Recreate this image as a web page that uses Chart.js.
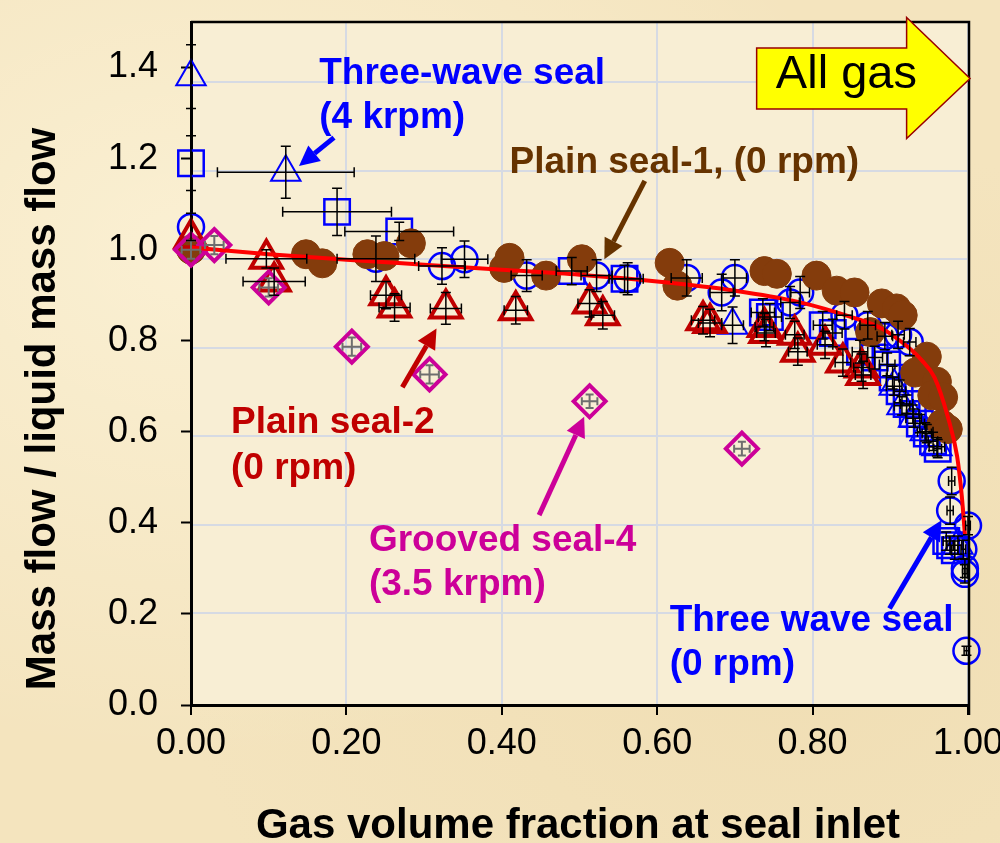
<!DOCTYPE html>
<html><head><meta charset="utf-8">
<script src="https://cdn.jsdelivr.net/npm/chart.js@4.4.0/dist/chart.umd.min.js"></script>
<style>
html,body{margin:0;padding:0;background:#F4E4BE;overflow:hidden;}
#wrap{width:1000px;height:843px;overflow:hidden;position:relative;
 background:radial-gradient(ellipse at 20% 30%, rgba(255,248,225,0.6), rgba(255,248,225,0) 60%),
            radial-gradient(ellipse at 80% 75%, rgba(236,216,170,0.5), rgba(236,216,170,0) 55%), #F4E4BE;}
canvas{display:block;}
</style></head><body>
<div id="wrap"><canvas id="c" width="1040" height="843"></canvas></div>
<script>
// ---- tick labels ----
const xTickValues = [0, 0.2, 0.4, 0.6, 0.8, 1.0];
const xTickLabels = ['0.00', '0.20', '0.40', '0.60', '0.80', '1.00'];
const yTickValues = [0, 0.2, 0.4, 0.6, 0.8, 1.0, 1.2, 1.4];
const yTickLabels = ['0.0', '0.2', '0.4', '0.6', '0.8', '1.0', '1.2', '1.4'];

// ---- Three-wave seal (4 krpm): blue open triangles ----
const tw4X    = [0, 0.122, 0.697, 0.905, 0.915, 0.930, 0.945, 0.960, 0.987];
const tw4Y    = [1.38, 1.17, 0.834, 0.700, 0.657, 0.630, 0.600, 0.567, 0.351];
const tw4XErr = [0, 0.088, 0.014, 0.01, 0.01, 0.01, 0.01, 0.01, 0.005];
const tw4YErr = [0.07, 0.057, 0.04, 0.02, 0.02, 0.02, 0.02, 0.02, 0.02];

// ---- Three-wave seal (other speed): blue open squares ----
const twSqX    = [0, 0.188, 0.268, 0.490, 0.558, 0.736, 0.745, 0.813, 0.826, 0.861, 0.880, 0.896, 0.903, 0.912, 0.921, 0.929, 0.938, 0.947, 0.955, 0.961, 0.972, 0.977, 0.983];
const twSqY    = [1.19, 1.083, 1.040, 0.953, 0.936, 0.862, 0.852, 0.834, 0.817, 0.776, 0.763, 0.748, 0.719, 0.689, 0.661, 0.639, 0.618, 0.596, 0.579, 0.563, 0.360, 0.351, 0.340];
const twSqXErr = [0, 0.07, 0.07, 0.02, 0.02, 0.015, 0.015, 0.012, 0.012, 0.01, 0.01, 0.01, 0.008, 0.008, 0.008, 0.008, 0.006, 0.006, 0.006, 0.005, 0.004, 0.004, 0.004];
const twSqYErr = [0.06, 0.052, 0.02, 0.03, 0.03, 0.03, 0.03, 0.03, 0.03, 0.025, 0.025, 0.025, 0.025, 0.025, 0.02, 0.02, 0.02, 0.02, 0.02, 0.02, 0.02, 0.02, 0.02];

// ---- Three wave seal (0 rpm): blue open circles ----
const tw0X    = [0, 0.238, 0.323, 0.352, 0.432, 0.522, 0.562, 0.638, 0.683, 0.700, 0.771, 0.784, 0.841, 0.871, 0.893, 0.910, 0.925, 0.979, 0.977, 1.000, 0.994, 0.996, 0.996, 0.998];
const tw0Y    = [1.05, 0.980, 0.964, 0.979, 0.943, 0.943, 0.936, 0.938, 0.906, 0.938, 0.884, 0.906, 0.856, 0.834, 0.810, 0.813, 0.797, 0.492, 0.427, 0.394, 0.342, 0.300, 0.288, 0.119];
const tw0XErr = [0, 0.05, 0.03, 0.03, 0.02, 0.02, 0.02, 0.02, 0.015, 0.015, 0.012, 0.012, 0.01, 0.01, 0.01, 0.008, 0.008, 0.004, 0.004, 0.003, 0.003, 0.003, 0.003, 0.003];
const tw0YErr = [0.03, 0.05, 0.04, 0.04, 0.035, 0.035, 0.035, 0.04, 0.04, 0.04, 0.035, 0.035, 0.03, 0.03, 0.03, 0.03, 0.03, 0.03, 0.03, 0.02, 0.02, 0.02, 0.02, 0.01];

// ---- Plain seal-1 (0 rpm): brown filled circles ----
const p1X = [0, 0.148, 0.169, 0.227, 0.249, 0.283, 0.403, 0.410, 0.457, 0.503, 0.616, 0.626, 0.738, 0.754, 0.805, 0.831, 0.854, 0.874, 0.889, 0.908, 0.916, 0.947, 0.932, 0.960, 0.954, 0.968, 0.966, 0.974];
const p1Y = [1.00, 0.990, 0.970, 0.990, 0.986, 1.014, 0.960, 0.982, 0.943, 0.979, 0.971, 0.921, 0.953, 0.947, 0.943, 0.910, 0.906, 0.819, 0.882, 0.871, 0.856, 0.765, 0.730, 0.710, 0.680, 0.676, 0.617, 0.606];

// ---- Plain seal-2 (0 rpm): dark red open triangles ----
const p2X    = [0, 0.097, 0.107, 0.251, 0.262, 0.328, 0.418, 0.513, 0.530, 0.659, 0.668, 0.738, 0.740, 0.777, 0.781, 0.816, 0.839, 0.863, 0.865];
const p2Y    = [1.025, 0.980, 0.930, 0.900, 0.873, 0.871, 0.867, 0.882, 0.856, 0.845, 0.839, 0.830, 0.817, 0.813, 0.776, 0.791, 0.752, 0.741, 0.725];
const p2XErr = [0, 0.052, 0.04, 0.02, 0.02, 0.02, 0.015, 0.015, 0.015, 0.015, 0.015, 0.012, 0.012, 0.012, 0.012, 0.01, 0.01, 0.01, 0.01];
const p2YErr = [0, 0.02, 0.03, 0.03, 0.03, 0.035, 0.03, 0.03, 0.03, 0.03, 0.03, 0.03, 0.03, 0.03, 0.03, 0.03, 0.03, 0.03, 0.03];

// ---- Grooved seal-4 (3.5 krpm): magenta open diamonds ----
const g4X    = [0, 0.030, 0.100, 0.207, 0.307, 0.513, 0.709];
const g4Y    = [1.000, 1.010, 0.917, 0.787, 0.726, 0.667, 0.563];
const g4XErr = [0.012, 0.012, 0.012, 0.012, 0.012, 0.01, 0.01];
const g4YErr = [0.02, 0.02, 0.02, 0.02, 0.02, 0.015, 0.015];

// ---- Fitted curve ----
const fitX = [0, 0.1, 0.2, 0.3, 0.4, 0.5, 0.6, 0.7, 0.78, 0.85, 0.89, 0.92, 0.94, 0.957, 0.974, 0.986, 0.992, 0.996];
const fitY = [1.005, 0.990, 0.978, 0.967, 0.956, 0.945, 0.930, 0.910, 0.886, 0.852, 0.826, 0.790, 0.758, 0.719, 0.633, 0.546, 0.459, 0.375];

const pts = (X, Y) => X.map((x, i) => ({x: x, y: Y[i]}));
const FONT = '"Liberation Sans", Arial, Helvetica, sans-serif';

// annotation layout (in data units)
const notes = [
  {t: 'Three-wave seal', x: 0.165, y: 1.363, c: '#0000FF'},
  {t: '(4 krpm)', x: 0.165, y: 1.268, c: '#0000FF'},
  {t: 'Plain seal-1, (0 rpm)', x: 0.41, y: 1.169, c: '#663300'},
  {t: 'Plain seal-2', x: 0.0515, y: 0.598, c: '#C00000'},
  {t: '(0 rpm)', x: 0.0515, y: 0.497, c: '#C00000'},
  {t: 'Grooved seal-4', x: 0.229, y: 0.339, c: '#CC0099'},
  {t: '(3.5 krpm)', x: 0.229, y: 0.242, c: '#CC0099'},
  {t: 'Three wave seal', x: 0.616, y: 0.162, c: '#0000FF'},
  {t: '(0 rpm)', x: 0.616, y: 0.065, c: '#0000FF'}
];
const arrows = [
  {x0: 0.184, y0: 1.246, x1: 0.139, y1: 1.184, c: '#0000FF'},
  {x0: 0.584, y0: 1.151, x1: 0.532, y1: 0.979, c: '#663300'},
  {x0: 0.272, y0: 0.698, x1: 0.316, y1: 0.827, c: '#C00000'},
  {x0: 0.448, y0: 0.417, x1: 0.506, y1: 0.633, c: '#CC0099'},
  {x0: 0.899, y0: 0.212, x1: 0.966, y1: 0.406, c: '#0000FF'}
];
const allGas = {left: 0.728, boxTop: 1.443, boxBottom: 1.309, headX: 0.921, headTop: 1.510, headBottom: 1.244, tipX: 1.0026, tipY: 1.376, textX: 0.8435, textY: 1.3545};

const bgPlugin = {
  id: 'bg',
  beforeDraw(chart) {
    const a = chart.chartArea, ctx = chart.ctx;
    ctx.save();
    ctx.fillStyle = '#F8EED4';
    ctx.fillRect(a.left, a.top, a.right - a.left, a.bottom - a.top);
    ctx.restore();
  }
};

const errPlugin = {
  id: 'err',
  afterDatasetsDraw(chart) {
    const ctx = chart.ctx, sx = chart.scales.x, sy = chart.scales.y;
    chart.data.datasets.forEach((ds) => {
      if (!ds.errX) return;
      ctx.save();
      ctx.strokeStyle = ds.errColor;
      ctx.lineWidth = ds.errWidth;
      const cap = ds.errCap;
      ds.data.forEach((p, j) => {
        const cx = sx.getPixelForValue(p.x), cy = sy.getPixelForValue(p.y);
        const ex = ds.errX[j], ey = ds.errY[j];
        ctx.beginPath();
        if (ex > 0) {
          const a = sx.getPixelForValue(p.x - ex), b = sx.getPixelForValue(p.x + ex);
          ctx.moveTo(a, cy); ctx.lineTo(b, cy);
          ctx.moveTo(a, cy - cap); ctx.lineTo(a, cy + cap);
          ctx.moveTo(b, cy - cap); ctx.lineTo(b, cy + cap);
        }
        if (ey > 0) {
          const a = sy.getPixelForValue(p.y - ey), b = sy.getPixelForValue(p.y + ey);
          ctx.moveTo(cx, a); ctx.lineTo(cx, b);
          ctx.moveTo(cx - cap, a); ctx.lineTo(cx + cap, a);
          ctx.moveTo(cx - cap, b); ctx.lineTo(cx + cap, b);
        }
        ctx.stroke();
      });
      ctx.restore();
    });
  }
};

function drawArrow(ctx, x0, y0, x1, y1, color, w) {
  const ang = Math.atan2(y1 - y0, x1 - x0);
  const L = 20, H = 10;
  const bx = x1 - Math.cos(ang) * L, by = y1 - Math.sin(ang) * L;
  ctx.save();
  ctx.strokeStyle = color; ctx.fillStyle = color; ctx.lineWidth = w;
  ctx.beginPath(); ctx.moveTo(x0, y0); ctx.lineTo(bx, by); ctx.stroke();
  ctx.beginPath();
  ctx.moveTo(x1, y1);
  ctx.lineTo(bx + Math.sin(ang) * H, by - Math.cos(ang) * H);
  ctx.lineTo(bx - Math.sin(ang) * H, by + Math.cos(ang) * H);
  ctx.closePath(); ctx.fill();
  ctx.restore();
}

const annPlugin = {
  id: 'ann',
  afterDraw(chart) {
    const ctx = chart.ctx, sx = chart.scales.x, sy = chart.scales.y, a = chart.chartArea;
    const X = v => sx.getPixelForValue(v), Y = v => sy.getPixelForValue(v);
    ctx.save();
    // top & right frame
    ctx.strokeStyle = '#000'; ctx.lineWidth = 2.5;
    ctx.beginPath();
    ctx.moveTo(a.left, a.top); ctx.lineTo(a.right + 1, a.top); ctx.lineTo(a.right + 1, a.bottom + 10);
    ctx.stroke();
    // notes
    ctx.font = 'bold 37px ' + FONT;
    ctx.textAlign = 'left'; ctx.textBaseline = 'alphabetic';
    notes.forEach(n => { ctx.fillStyle = n.c; ctx.fillText(n.t, X(n.x), Y(n.y)); });
    arrows.forEach(r => drawArrow(ctx, X(r.x0), Y(r.y0), X(r.x1), Y(r.y1), r.c, 5));
    // All gas arrow
    const g = allGas;
    ctx.beginPath();
    ctx.moveTo(X(g.left), Y(g.boxTop));
    ctx.lineTo(X(g.headX), Y(g.boxTop));
    ctx.lineTo(X(g.headX), Y(g.headTop));
    ctx.lineTo(X(g.tipX), Y(g.tipY));
    ctx.lineTo(X(g.headX), Y(g.headBottom));
    ctx.lineTo(X(g.headX), Y(g.boxBottom));
    ctx.lineTo(X(g.left), Y(g.boxBottom));
    ctx.closePath();
    ctx.fillStyle = '#FFFF00'; ctx.fill();
    ctx.strokeStyle = '#990000'; ctx.lineWidth = 1.5; ctx.stroke();
    ctx.fillStyle = '#000'; ctx.font = '47px ' + FONT; ctx.textAlign = 'center';
    ctx.fillText('All gas', X(g.textX), Y(g.textY));
    // axis titles
    ctx.font = 'bold 42px ' + FONT;
    ctx.fillText('Gas volume fraction at seal inlet', 578, 838);
    ctx.translate(55, 409); ctx.rotate(-Math.PI / 2);
    ctx.fillText('Mass flow / liquid mass flow', 0, 0);
    ctx.restore();
  }
};

const errStyle = {errColor: '#000', errWidth: 1.5, errCap: 5};

new Chart(document.getElementById('c'), {
  type: 'scatter',
  data: {
    datasets: [
      {label: 'Fit', data: pts(fitX, fitY), showLine: true, borderColor: '#FF0000', borderWidth: 4, clip: false,
       pointRadius: 0, cubicInterpolationMode: 'monotone', fill: false},
      Object.assign({label: 'Grooved seal-4 (3.5 krpm)', data: pts(g4X, g4Y), pointStyle: 'rectRot', pointRadius: 16, clip: false,
       borderColor: '#CC0099', borderWidth: 4, backgroundColor: 'rgba(0,0,0,0)', errX: g4XErr, errY: g4YErr}, {errColor: '#6E6E6E', errWidth: 2, errCap: 4}),
      Object.assign({label: 'Plain seal-2 (0 rpm)', data: pts(p2X, p2Y), pointStyle: 'triangle', pointRadius: 18, clip: false,
       borderColor: '#C00000', borderWidth: 4, backgroundColor: 'rgba(0,0,0,0)', errX: p2XErr, errY: p2YErr}, errStyle),
      {label: 'Plain seal-1 (0 rpm)', data: pts(p1X, p1Y), pointStyle: 'circle', pointRadius: 14.5, clip: false,
       borderColor: '#843C0C', borderWidth: 1, backgroundColor: '#843C0C'},
      Object.assign({label: 'Three-wave seal squares', data: pts(twSqX, twSqY), pointStyle: 'rect', pointRadius: 18, clip: false,
       borderColor: '#0000FF', borderWidth: 2.5, backgroundColor: 'rgba(0,0,0,0)', errX: twSqXErr, errY: twSqYErr}, errStyle),
      Object.assign({label: 'Three wave seal (0 rpm)', data: pts(tw0X, tw0Y), pointStyle: 'circle', pointRadius: 13, clip: false,
       borderColor: '#0000FF', borderWidth: 2.5, backgroundColor: 'rgba(0,0,0,0)', errX: tw0XErr, errY: tw0YErr}, errStyle),
      Object.assign({label: 'Three-wave seal (4 krpm)', data: pts(tw4X, tw4Y), pointStyle: 'triangle', pointRadius: 17, clip: false,
       borderColor: '#0000FF', borderWidth: 2, backgroundColor: 'rgba(0,0,0,0)', errX: tw4XErr, errY: tw4YErr}, errStyle)
    ]
  },
  options: {
    responsive: false, animation: false, events: [], devicePixelRatio: 1,
    layout: {padding: {left: 0, right: 72, top: 11, bottom: 0}},
    plugins: {legend: {display: false}, tooltip: {enabled: false}, title: {display: false}},
    scales: {
      x: {
        type: 'linear', position: 'bottom', min: 0, max: 1,
        afterBuildTicks: s => { s.ticks = xTickValues.map(v => ({value: v})); },
        afterFit: s => { s.height = 138; s.paddingLeft = 0; s.paddingRight = 0; },
        ticks: {color: '#000', padding: 7, font: {family: FONT, size: 36}, maxRotation: 0, autoSkip: false,
                callback: (v, i) => xTickLabels[i]},
        grid: {color: '#D6DAE3', lineWidth: 2, drawTicks: true, tickLength: 10, tickColor: '#000', tickWidth: 2},
        border: {display: true, color: '#000', width: 3}
      },
      y: {
        type: 'linear', position: 'left', min: 0, max: 1.5,
        afterBuildTicks: s => { s.ticks = yTickValues.map(v => ({value: v})); },
        afterFit: s => { s.width = 191; s.paddingTop = 0; s.paddingBottom = 0; },
        ticks: {color: '#000', padding: 23, font: {family: FONT, size: 36}, autoSkip: false,
                callback: (v, i) => yTickLabels[i]},
        grid: {drawOnChartArea: false, drawTicks: true, tickLength: 10, tickColor: '#000', tickWidth: 2},
        border: {display: true, color: '#000', width: 3}
      },
      yGrid: {
        type: 'linear', position: 'right', min: -0.0067, max: 1.5356,
        afterBuildTicks: s => { s.ticks = yTickValues.slice(1).map(v => ({value: v})); },
        afterFit: s => { s.width = 0; s.paddingTop = 0; s.paddingBottom = 0; },
        ticks: {display: false},
        grid: {color: '#D6DAE3', lineWidth: 2, drawTicks: false},
        border: {display: false}
      }
    }
  },
  plugins: [bgPlugin, errPlugin, annPlugin]
});
</script>
</body></html>
